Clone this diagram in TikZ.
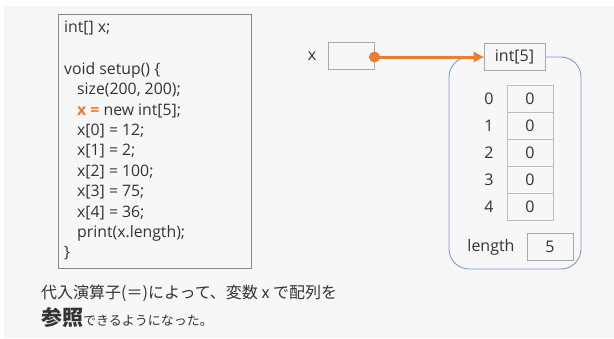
\documentclass[tikz,border=0pt]{standalone}
\usepackage{fontspec}
\setmainfont{Open Sans}
\newfontfamily\jpfont{Noto Sans CJK JP}
\usetikzlibrary{arrows.meta}
\definecolor{bggray}{HTML}{F7F7F7}
\definecolor{txt}{HTML}{333333}
\definecolor{codeborder}{HTML}{8A8A8A}
\definecolor{cellborder}{HTML}{BDBDBD}
\definecolor{boxborder}{HTML}{A8A8A8}
\definecolor{framebl}{HTML}{7F9AC9}
\definecolor{orng}{HTML}{ED7D31}
\tikzset{
  codeline/.style={anchor=west, inner sep=0pt, text=txt, font=\fontsize{15.8}{18}\selectfont},
  cellbox/.style={draw=cellborder, line width=0.9pt, minimum width=46pt, minimum height=27pt, inner sep=0pt, text=txt, font=\fontsize{16}{18}\selectfont},
  plainbox/.style={draw=boxborder, line width=0.9pt, fill=bggray, minimum width=46pt, minimum height=27pt, inner sep=0pt, text=txt, font=\fontsize{16}{18}\selectfont},
  idx/.style={inner sep=0pt, text=txt, font=\fontsize{16}{18}\selectfont},
}
\begin{document}
\begin{tikzpicture}[x=1pt,y=-1pt]
\useasboundingbox (0,0) rectangle (614,338);
\fill[white] (0,0) rectangle (614,338);
\fill[bggray] (4,6) rectangle (614,338);
% code box
\node[draw=codeborder, line width=0.9pt, minimum width=193pt, minimum height=254pt, inner sep=0pt] (code) at (155,141) {};
\node[codeline] (l1) at (64,28) {int[] x;};
\node[codeline] (l2) at (64,70) {void setup() \{};
\node[codeline] (l3) at (77,90) {size(200, 200);};
\node[codeline] (l4) at (77,110.5) {{\color{orng}\bfseries x =} new int[5];};
\node[codeline] (l5) at (77,131) {x[0] = 12;};
\node[codeline] (l6) at (77,151.5) {x[1] = 2;};
\node[codeline] (l7) at (77,172) {x[2] = 100;};
\node[codeline] (l8) at (77,192.5) {x[3] = 75;};
\node[codeline] (l9) at (77,213) {x[4] = 36;};
\node[codeline] (l10) at (77,233) {print(x.length);};
\node[codeline] (l11) at (64,253) {\}};
% array object frame
\draw[framebl, line width=0.9pt, rounded corners=20pt] (449,57) rectangle (581,269);
\node[plainbox, minimum width=61pt] (int5) at (514.5,57) {int[5]};
% variable x
\node[idx] (xlab) at (312,56) {x};
\node[plainbox] (xbox) at (351,55.5) {};
% cells
\foreach \i in {0,...,4} {
  \node[cellbox] (c\i) at (530,{98.5+27*\i}) {0};
  \node[idx] (i\i) at (489,{98.5+27*\i}) {\i};
}
\node[idx] (lenlab) at (491,247) {length};
\node[plainbox] (lenbox) at (550,246.5) {5};
% reference arrow
\coordinate (xref) at (xbox.east |- int5.west);
\draw[orng, line width=3pt, -{Triangle[length=10pt,width=10pt]}] (xref) -- (int5.west);
\fill[orng] (xref) circle (5.5pt);
% caption
\node[anchor=west, inner sep=0pt, text=txt, font=\jpfont\fontsize{16}{18}\selectfont] (cap1) at (41,293) {代入演算子(＝)によって、変数 x で配列を};
\node[anchor=west, inner sep=0pt, text=txt] (cap2) at (41,318) {\jpfont{\fontsize{21}{24}\selectfont\bfseries 参照}{\fontsize{13}{16}\selectfont できるようになった。}};
\end{tikzpicture}
\end{document}
